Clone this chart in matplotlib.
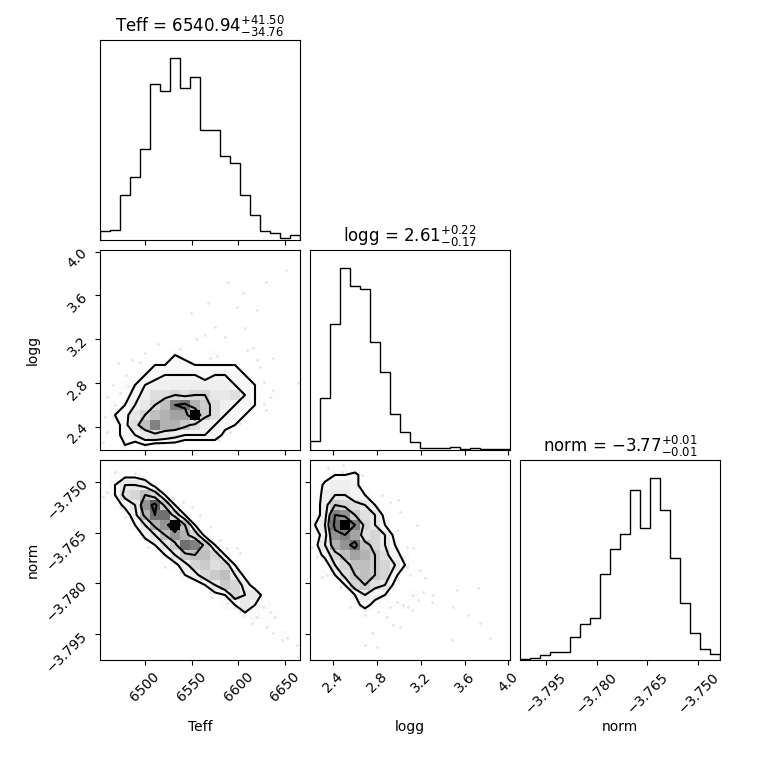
import numpy as np
import matplotlib
matplotlib.use("Agg")
import matplotlib.pyplot as plt
from matplotlib.colors import LinearSegmentedColormap

# parameter names, plot ranges and ticks
labels = ["Teff", "logg", "norm"]
ranges = [(6451.8, 6666.0), (2.187, 4.015), (-3.8026, -3.7436)]
ticks = [[6500, 6550, 6600, 6650],
         [2.4, 2.8, 3.2, 3.6, 4.0],
         [-3.795, -3.780, -3.765, -3.750]]
tick_labels = [["6500", "6550", "6600", "6650"],
               ["2.4", "2.8", "3.2", "3.6", "4.0"],
               ["\u22123.795", "\u22123.780", "\u22123.765", "\u22123.750"]]

# median and 16/84 percentile offsets shown in the titles
medians = [6540.94, 2.61, -3.77]
err_lo = [34.76, 0.17, 0.01]
err_hi = [41.50, 0.22, 0.01]

# 1D histograms (20 bins each)
hist_teff = [27, 30, 135, 188, 272, 467, 447, 545, 455, 488,
             330, 330, 253, 230, 135, 75, 28, 20, 5, 14]
hist_logg = [27, 155, 377, 545, 492, 483, 323, 233, 107, 55,
             25, 5, 5, 5, 8, 3, 5, 2, 2, 4]
hist_norm = [4, 7, 15, 25, 25, 68, 108, 125, 257, 333,
             377, 510, 395, 545, 450, 307, 170, 82, 32, 18]

# 2D histogram cores, rows from top (high y) to bottom, 20 x-bins per row
grid_teff_logg = [
    [0] * 20, [0] * 20, [0] * 20, [0] * 20, [0] * 20,
    [0] * 20, [0] * 20, [0] * 20, [0] * 20, [0] * 20,
    [0, 0, 0, 0, 0, 0, 1, 2, 1, 1, 1, 0, 0, 0, 0, 0, 0, 0, 0, 0],
    [0, 0, 0, 0, 0, 2, 2, 3, 3, 2, 2, 2, 2, 2, 1, 0, 0, 0, 0, 0],
    [0, 0, 0, 1, 2, 3, 4, 4, 4, 4, 3, 4, 4, 3, 2, 0, 0, 0, 0, 0],
    [0, 0, 1, 2, 4, 5, 5, 5, 5, 5, 5, 5, 5, 4, 3, 2, 0, 0, 0, 0],
    [0, 0, 1, 3, 5, 7, 7, 8, 7, 8, 8, 6, 6, 7, 4, 2, 0, 0, 0, 0],
    [0, 1, 2, 4, 6, 8, 10, 14, 15, 11, 9, 7, 5, 4, 3, 2, 0, 0, 0, 0],
    [0, 1, 3, 6, 8, 10, 11, 12, 12, 20, 9, 7, 4, 3, 2, 0, 0, 0, 0, 0],
    [0, 1, 3, 7, 10, 14, 11, 11, 9, 7, 5, 4, 3, 2, 0, 0, 0, 0, 0, 0],
    [0, 1, 3, 4, 6, 7, 6, 5, 4, 4, 3, 2, 0, 0, 0, 0, 0, 0, 0, 0],
    [0, 0, 1, 1, 1, 1, 1, 1, 0, 0, 0, 0, 0, 0, 0, 0, 0, 0, 0, 0],
]
grid_teff_norm = [
    [0] * 20,
    [0, 1, 2, 1, 0, 0, 0, 0, 0, 0, 0, 0, 0, 0, 0, 0, 0, 0, 0, 0],
    [0, 3, 6, 6, 5, 2, 0, 0, 0, 0, 0, 0, 0, 0, 0, 0, 0, 0, 0, 0],
    [0, 2, 7, 8, 10, 8, 3, 0, 0, 0, 0, 0, 0, 0, 0, 0, 0, 0, 0, 0],
    [0, 0, 4, 6, 13, 16, 9, 3, 0, 0, 0, 0, 0, 0, 0, 0, 0, 0, 0, 0],
    [0, 0, 0, 5, 11, 15, 15, 8, 3, 0, 0, 0, 0, 0, 0, 0, 0, 0, 0, 0],
    [0, 0, 0, 2, 6, 11, 13, 20, 10, 3, 0, 0, 0, 0, 0, 0, 0, 0, 0, 0],
    [0, 0, 0, 0, 3, 6, 10, 13, 11, 8, 2, 0, 0, 0, 0, 0, 0, 0, 0, 0],
    [0, 0, 0, 0, 0, 3, 6, 9, 15, 14, 9, 3, 0, 0, 0, 0, 0, 0, 0, 0],
    [0, 0, 0, 0, 0, 0, 3, 6, 9, 10, 10, 8, 3, 0, 0, 0, 0, 0, 0, 0],
    [0, 0, 0, 0, 0, 0, 0, 2, 5, 8, 9, 7, 8, 3, 0, 0, 0, 0, 0, 0],
    [0, 0, 0, 0, 0, 0, 0, 0, 2, 4, 8, 9, 10, 6, 2, 0, 0, 0, 0, 0],
    [0, 0, 0, 0, 0, 0, 0, 0, 0, 1, 3, 6, 9, 8, 5, 1, 0, 0, 0, 0],
    [0, 0, 0, 0, 0, 0, 0, 0, 0, 0, 0, 1, 3, 8, 6, 4, 1, 0, 0, 0],
    [0, 0, 0, 0, 0, 0, 0, 0, 0, 0, 0, 0, 1, 2, 5, 3, 1, 0, 0, 0],
    [0, 0, 0, 0, 0, 0, 0, 0, 0, 0, 0, 0, 0, 0, 1, 2, 1, 0, 0, 0],
    [0] * 20, [0] * 20, [0] * 20, [0] * 20,
]
grid_logg_norm = [
    [0] * 20,
    [0, 1, 3, 2, 1, 0, 0, 0, 0, 0, 0, 0, 0, 0, 0, 0, 0, 0, 0, 0],
    [0, 4, 5, 5, 4, 1, 0, 0, 0, 0, 0, 0, 0, 0, 0, 0, 0, 0, 0, 0],
    [0, 5, 6, 6, 4, 3, 1, 0, 0, 0, 0, 0, 0, 0, 0, 0, 0, 0, 0, 0],
    [1, 5, 9, 8, 7, 6, 3, 0, 0, 0, 0, 0, 0, 0, 0, 0, 0, 0, 0, 0],
    [1, 5, 14, 13, 9, 7, 6, 2, 0, 0, 0, 0, 0, 0, 0, 0, 0, 0, 0, 0],
    [1, 5, 15, 20, 14, 8, 6, 3, 0, 0, 0, 0, 0, 0, 0, 0, 0, 0, 0, 0],
    [1, 5, 13, 14, 12, 7, 8, 6, 2, 0, 0, 0, 0, 0, 0, 0, 0, 0, 0, 0],
    [1, 5, 11, 13, 15, 10, 8, 6, 3, 0, 0, 0, 0, 0, 0, 0, 0, 0, 0, 0],
    [0, 3, 8, 10, 12, 11, 9, 7, 4, 1, 0, 0, 0, 0, 0, 0, 0, 0, 0, 0],
    [0, 1, 6, 8, 10, 10, 9, 8, 6, 2, 0, 0, 0, 0, 0, 0, 0, 0, 0, 0],
    [0, 0, 3, 7, 9, 10, 9, 8, 3, 0, 0, 0, 0, 0, 0, 0, 0, 0, 0, 0],
    [0, 0, 0, 3, 7, 9, 7, 6, 2, 0, 0, 0, 0, 0, 0, 0, 0, 0, 0, 0],
    [0, 0, 0, 0, 3, 6, 4, 3, 0, 0, 0, 0, 0, 0, 0, 0, 0, 0, 0, 0],
    [0, 0, 0, 0, 1, 2, 2, 1, 0, 0, 0, 0, 0, 0, 0, 0, 0, 0, 0, 0],
    [0] * 20, [0] * 20, [0] * 20, [0] * 20, [0] * 20,
]

# scattered samples outside the contours
pts_teff_logg_x = [6651, 6589, 6630, 6605, 6567, 6598, 6620, 6549, 6575, 6607,
                   6555, 6586, 6564, 6514, 6538, 6609, 6616, 6577, 6570, 6620,
                   6500, 6495, 6486, 6471, 6480, 6466, 6482, 6473, 6459, 6468,
                   6623, 6627, 6637, 6634, 6627, 6637, 6630, 6457, 6466, 6459,
                   6455, 6477, 6500, 6559, 6570, 6579, 6591, 6602, 6664]
pts_teff_logg_y = [3.83, 3.72, 3.72, 3.625, 3.53, 3.49, 3.47, 3.44, 3.31, 3.30,
                   3.20, 3.22, 3.24, 3.16, 3.11, 3.10, 3.12, 3.05, 3.03, 3.01,
                   3.07, 2.995, 3.01, 2.98, 2.87, 2.78, 2.77, 2.705, 2.675, 2.60,
                   2.95, 2.81, 2.735, 2.675, 2.61, 3.025, 2.55, 2.49, 2.49, 2.355,
                   2.26, 2.22, 2.22, 2.31, 2.31, 2.28, 2.355, 2.43, 2.80]
pts_teff_norm_x = [6467.9, 6489.3, 6498.2, 6459.0, 6468.0, 6455.4, 6473.2, 6478.6,
                   6491.0, 6500.0, 6503.6, 6521.4, 6537.5, 6530.3, 6541.0, 6550.0,
                   6559.0, 6569.6, 6580.0, 6587.5, 6598.0, 6601.7, 6569.6, 6571.4,
                   6587.5, 6596.4, 6601.7, 6608.9, 6616.0, 6623.0, 6626.7, 6619.6,
                   6630.3, 6637.4, 6639.2, 6646.4, 6651.7, 6662.4, 6664.2, 6605.3,
                   6614.2, 6633.9, 6557.0]
pts_teff_norm_y = [-3.7470, -3.7475, -3.7485, -3.7529, -3.7534, -3.7544, -3.7574, -3.7603,
                   -3.7628, -3.7672, -3.7692, -3.7751, -3.7765, -3.7549, -3.7559, -3.7574,
                   -3.7598, -3.7633, -3.7672, -3.7697, -3.7697, -3.7711, -3.7824, -3.7839,
                   -3.7859, -3.7869, -3.7883, -3.7869, -3.7849, -3.7834, -3.7869, -3.7898,
                   -3.7928, -3.7947, -3.7898, -3.7967, -3.7962, -3.7982, -3.8016, -3.7893,
                   -3.7918, -3.7883, -3.7775]
pts_logg_norm_x = [2.355, 2.492, 2.476, 2.553, 2.614, 2.659, 2.583, 2.233, 2.248, 2.324,
                   2.202, 2.294, 2.324, 2.294, 2.339, 2.248, 2.842, 2.918, 2.994, 3.010,
                   2.979, 3.162, 3.071, 3.040, 3.132, 3.071, 3.192, 3.101, 3.238, 2.979,
                   2.461, 2.553, 2.553, 2.644, 2.690, 2.690, 2.812, 2.918, 2.979, 2.888,
                   2.949, 3.010, 2.751, 2.690, 2.796, 3.132, 3.177, 3.223, 3.314, 3.299,
                   3.497, 3.528, 3.634, 3.726, 3.741, 3.832, 3.482, 3.086, 3.116, 3.040]
pts_logg_norm_y = [-3.7461, -3.7451, -3.7470, -3.7480, -3.7480, -3.7480, -3.7495, -3.7618,
                   -3.7633, -3.7628, -3.7692, -3.7701, -3.7731, -3.7780, -3.7775, -3.7721,
                   -3.7539, -3.7559, -3.7554, -3.7588, -3.7642, -3.7628, -3.7692, -3.7721,
                   -3.7697, -3.7751, -3.7760, -3.7775, -3.7785, -3.7780, -3.7810, -3.7814,
                   -3.7869, -3.7859, -3.7878, -3.7893, -3.7883, -3.7869, -3.7854, -3.7898,
                   -3.7923, -3.7928, -3.7947, -3.7982, -3.7987, -3.7834, -3.7849, -3.7824,
                   -3.7834, -3.7854, -3.7869, -3.7819, -3.7893, -3.7814, -3.7918, -3.7962,
                   -3.7967, -3.7869, -3.7878, -3.7864]

hists = [hist_teff, hist_logg, hist_norm]
pairs = {
    (1, 0): (grid_teff_logg, pts_teff_logg_x, pts_teff_logg_y),
    (2, 0): (grid_teff_norm, pts_teff_norm_x, pts_teff_norm_y),
    (2, 1): (grid_logg_norm, pts_logg_norm_x, pts_logg_norm_y),
}
levels = 1.0 - np.exp(-0.5 * np.arange(0.5, 2.1, 0.5) ** 2)


def hist2d(ax, grid, px, py, xr, yr):
    nb = len(grid[0])
    X = np.linspace(xr[0], xr[1], nb + 1)
    Y = np.linspace(yr[0], yr[1], nb + 1)
    H = np.array(grid, dtype=float)[::-1].T
    Hp, _, _ = np.histogram2d(px, py, bins=[X, Y])
    H = H + Hp

    # contour levels enclosing given fractions of the mass
    Hflat = np.sort(H.flatten())[::-1]
    sm = np.cumsum(Hflat)
    sm /= sm[-1]
    V = np.empty(len(levels))
    for i, v0 in enumerate(levels):
        try:
            V[i] = Hflat[sm <= v0][-1]
        except IndexError:
            V[i] = Hflat[0]
    V.sort()
    m = np.diff(V) == 0
    while np.any(m):
        V[np.where(m)[0][0]] *= 1.0 - 1e-4
        m = np.diff(V) == 0
    V.sort()

    X1 = 0.5 * (X[1:] + X[:-1])
    Y1 = 0.5 * (Y[1:] + Y[:-1])
    H2 = H.min() + np.zeros((H.shape[0] + 4, H.shape[1] + 4))
    H2[2:-2, 2:-2] = H
    H2[2:-2, 1] = H[:, 0]
    H2[2:-2, -2] = H[:, -1]
    H2[1, 2:-2] = H[0]
    H2[-2, 2:-2] = H[-1]
    H2[1, 1] = H[0, 0]
    H2[1, -2] = H[0, -1]
    H2[-2, 1] = H[-1, 0]
    H2[-2, -2] = H[-1, -1]
    X2 = np.concatenate([X1[0] + np.array([-2, -1]) * np.diff(X1[:2]), X1,
                         X1[-1] + np.array([1, 2]) * np.diff(X1[-2:])])
    Y2 = np.concatenate([Y1[0] + np.array([-2, -1]) * np.diff(Y1[:2]), Y1,
                         Y1[-1] + np.array([1, 2]) * np.diff(Y1[-2:])])

    ax.plot(px, py, "o", color="k", ms=2, mec="none", alpha=0.1, zorder=-1)
    white_cmap = LinearSegmentedColormap.from_list("white_cmap", [(1, 1, 1), (1, 1, 1)], N=2)
    ax.contourf(X2, Y2, H2.T, [V.min(), H.max()], cmap=white_cmap, antialiased=False)
    density_cmap = LinearSegmentedColormap.from_list("density_cmap", ["k", (1, 1, 1, 0)])
    ax.pcolor(X, Y, H.max() - H.T, cmap=density_cmap)
    ax.contour(X2, Y2, H2.T, V, colors="k")
    ax.set_xlim(xr)
    ax.set_ylim(yr)


fig = plt.figure(figsize=(7.6, 7.6), dpi=100)
size = 200 / 760
lefts = [100 / 760, 310 / 760, 520 / 760]
bottoms = [520 / 760, 310 / 760, 100 / 760]

for row in range(3):
    for col in range(row + 1):
        ax = fig.add_axes([lefts[col], bottoms[row], size, size])
        if row == col:
            edges = np.linspace(ranges[col][0], ranges[col][1], len(hists[col]) + 1)
            ax.hist(edges[:-1], bins=edges, weights=hists[col], histtype="step", color="k")
            ax.set_xlim(ranges[col])
            ax.set_ylim(0, 1.1 * max(hists[col]))
            ax.set_yticks([])
            title = "{0} = ${1:.2f}_{{-{2:.2f}}}^{{+{3:.2f}}}$".format(
                labels[col], medians[col], err_lo[col], err_hi[col])
            ax.set_title(title)
        else:
            grid, px, py = pairs[(row, col)]
            hist2d(ax, grid, px, py, ranges[col], ranges[row])
            ax.set_yticks(ticks[row])
            if col == 0:
                ax.set_yticklabels(tick_labels[row], rotation=45)
                ax.set_ylabel(labels[row])
                ax.yaxis.set_label_coords(-0.3, 0.5)
            else:
                ax.set_yticklabels([])
        ax.set_xticks(ticks[col])
        if row == 2:
            ax.set_xticklabels(tick_labels[col], rotation=45)
            ax.set_xlabel(labels[col])
            ax.xaxis.set_label_coords(0.5, -0.3)
        else:
            ax.set_xticklabels([])

fig.savefig("out.png", dpi=100)
